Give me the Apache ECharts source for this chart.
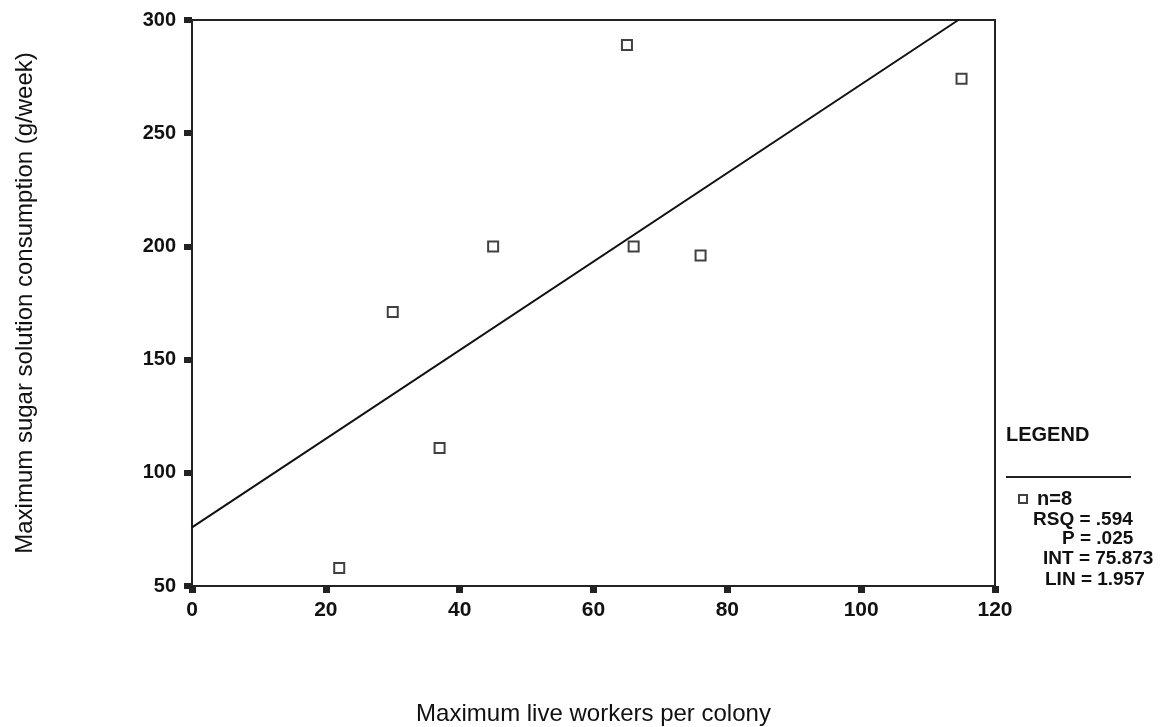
<!DOCTYPE html>
<html>
<head>
<meta charset="utf-8">
<script src="https://cdn.jsdelivr.net/npm/echarts@6/dist/echarts.min.js"></script>
<style>html,body{margin:0;padding:0;background:#fff}#c{width:1165px;height:727px}</style>
</head>
<body>
<div id="c"></div>
<script>
var workers = [22, 30, 37, 45, 65, 66, 76, 115];
var consumption = [58, 171, 111, 200, 289, 200, 196, 274];
var regInt = 75.873;
var regLin = 1.957;
var statLabels = ['RSQ = .594', 'P = .025', 'INT = 75.873', 'LIN = 1.957'];
var xTicks = [0, 20, 40, 60, 80, 100, 120];
var yTicks = [50, 100, 150, 200, 250, 300];

var pts = workers.map(function (w, i) { return [w, consumption[i]]; });
var yMax = 300;
var xEnd = (yMax - regInt) / regLin;
var regLine = [[0, regInt], [xEnd, regInt + regLin * xEnd]];

var font = 'Liberation Sans';
var statPos = [[1033, 520], [1062, 539], [1043, 559], [1045, 580]];
var statGraphics = statLabels.map(function (t, i) {
  return { type: 'text', style: { x: statPos[i][0], y: statPos[i][1], text: t, font: 'bold 19px "Liberation Sans"', fill: '#111', verticalAlign: 'middle' } };
});

var chart = echarts.init(document.getElementById('c'));
chart.setOption({
  backgroundColor: '#fff',
  animation: false,
  grid: { left: 192, top: 20, right: 170, bottom: 141, show: true, borderColor: '#222', borderWidth: 2,
    containLabel: false, outerBoundsMode: 'none' },
  xAxis: {
    type: 'value', min: 0, max: 120, interval: 20,
    name: 'Maximum live workers per colony', nameLocation: 'middle', nameGap: 116,
    nameTextStyle: { fontFamily: font, fontSize: 24, color: '#111' },
    axisLine: { lineStyle: { color: '#222', width: 2 } },
    axisTick: { length: 7, lineStyle: { color: '#222', width: 7 } },
    axisLabel: { fontFamily: font, fontSize: 21, fontWeight: 'bold', color: '#111', margin: 14,
      formatter: function (v) { return xTicks.indexOf(v) >= 0 ? String(v) : ''; } },
    splitLine: { show: false }
  },
  yAxis: {
    type: 'value', min: 50, max: 300, interval: 50,
    name: 'Maximum sugar solution consumption (g/week)', nameLocation: 'middle', nameGap: 155,
    nameTextStyle: { fontFamily: font, fontSize: 24, color: '#111' },
    axisLine: { lineStyle: { color: '#222', width: 2 } },
    axisTick: { length: 8, lineStyle: { color: '#222', width: 6 } },
    axisLabel: { fontFamily: font, fontSize: 20, fontWeight: 'bold', color: '#111', margin: 16,
      formatter: function (v) { return yTicks.indexOf(v) >= 0 ? String(v) : ''; } },
    splitLine: { show: false }
  },
  legend: {
    data: [{ name: 'n=8', icon: 'emptyRect' }],
    left: 1013, top: 484, itemWidth: 8, itemHeight: 8, itemGap: 4,
    textStyle: { fontFamily: font, fontSize: 20, fontWeight: 'bold', color: '#111', padding: [0, 0, 0, 5] }
  },
  series: [
    {
      name: 'n=8', type: 'scatter', data: pts, symbol: 'emptyRect', symbolSize: 10,
      itemStyle: { color: '#111', borderColor: '#111', borderWidth: 2 }
    },
    {
      name: 'fit', type: 'line', data: regLine, symbol: 'none',
      lineStyle: { color: '#111', width: 2 }
    }
  ],
  graphic: [
    { type: 'text', style: { x: 1006, y: 435, text: 'LEGEND', font: 'bold 20px "Liberation Sans"', fill: '#111', verticalAlign: 'middle' } },
    { type: 'line', shape: { x1: 1006, y1: 477, x2: 1131, y2: 477 }, style: { stroke: '#222', lineWidth: 2 } }
  ].concat(statGraphics)
});
</script>
</body>
</html>
